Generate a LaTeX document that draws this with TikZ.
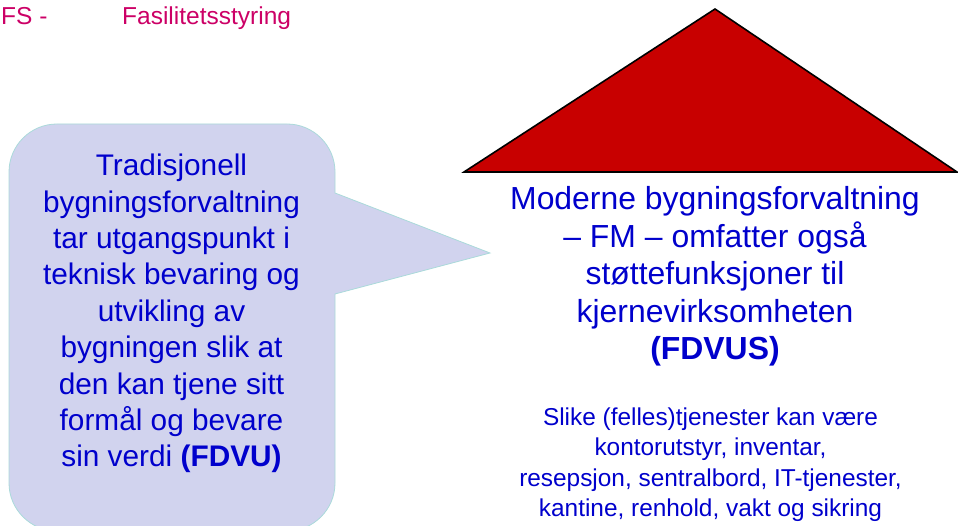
\documentclass[tikz,border=0pt]{standalone}
\usepackage{fontspec}
\setmainfont{Liberation Sans}
\definecolor{txtblue}{RGB}{0,0,204}
\definecolor{hdr}{RGB}{204,0,102}
\definecolor{roofred}{RGB}{200,0,0}
\definecolor{callfill}{RGB}{209,211,238}
\definecolor{calledge}{RGB}{170,218,218}
\tikzset{
  lefttext/.style={inner sep=0pt, align=center, text=txtblue, font=\fontsize{29.8}{36.4}\selectfont},
  righttext/.style={inner sep=0pt, align=center, text=txtblue, font=\fontsize{31.9}{37.5}\selectfont},
  smalltext/.style={inner sep=0pt, align=center, text=txtblue, font=\fontsize{24.4}{30.5}\selectfont},
  hdrtext/.style={inner sep=0pt, anchor=base west, text=hdr, font=\fontsize{24.5}{29}\selectfont},
  callout/.style={fill=callfill, draw=calledge, line width=0.8pt},
  roof/.style={fill=roofred, draw=black, line width=1.6pt, line join=miter}
}
\begin{document}
\begin{tikzpicture}[x=1pt,y=1pt]
\useasboundingbox (0,0) rectangle (958,526);
\begin{scope}
\clip (0,0) rectangle (958,526);
% callout
\path[callout] (335,232) -- (335,43) arc[start angle=0,end angle=-90,radius=48pt]
  -- (57,-5) arc[start angle=270,end angle=180,radius=48pt]
  -- (9,354) arc[start angle=180,end angle=90,radius=48pt]
  -- (287,402) arc[start angle=90,end angle=0,radius=48pt]
  -- (335,333) -- (490,273) -- cycle;
% roof
\path[roof] (464,354) -- (715,517) -- (957,354) -- cycle;
\end{scope}
\node[hdrtext] (fs) at (1,501) {FS -};
\node[hdrtext] (fasil) at (122,501) {Fasilitetsstyring};
\node[lefttext, anchor=base] (trad) at (171.5,59) {Tradisjonell\\bygningsforvaltning\\tar utgangspunkt i\\teknisk bevaring og\\utvikling av\\bygningen slik at\\den kan tjene sitt\\formål og bevare\\sin verdi \textbf{(FDVU)}};
\node[righttext, anchor=base] (mod) at (715,166) {Moderne bygningsforvaltning\\– FM – omfatter også\\støttefunksjoner til\\kjernevirksomheten\\\textbf{(FDVUS)}};
\node[smalltext, anchor=base] (slike) at (710.5,9) {Slike (felles)tjenester kan være\\kontorutstyr, inventar,\\resepsjon, sentralbord, IT-tjenester,\\kantine, renhold, vakt og sikring};
\end{tikzpicture}
\end{document}
